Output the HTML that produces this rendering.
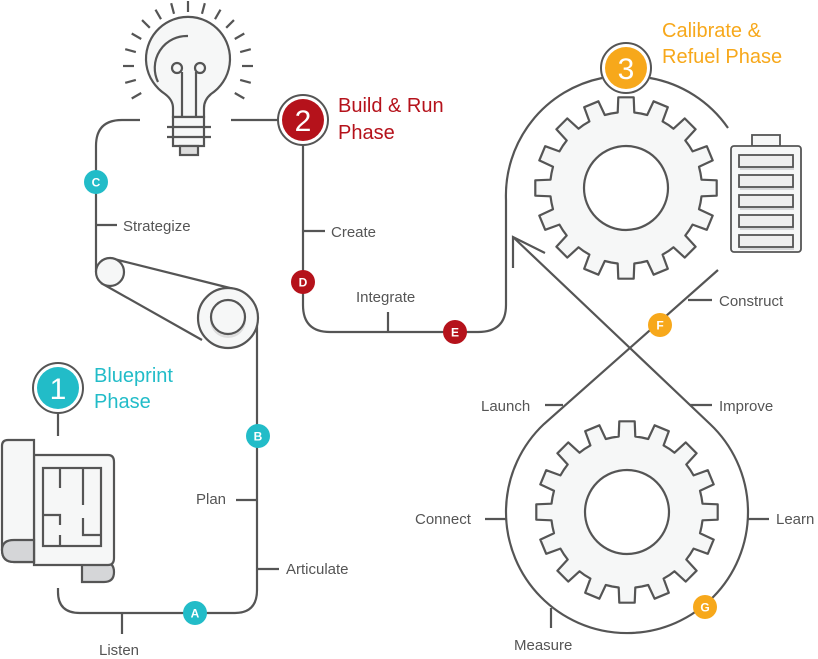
<!DOCTYPE html><html><head><meta charset="utf-8"><style>body{margin:0;background:#fff}svg{display:block}text{font-family:"Liberation Sans",sans-serif}</style></head><body>
<svg id="s" width="818" height="659" viewBox="0 0 818 659" xmlns="http://www.w3.org/2000/svg">
<g fill="none" stroke="#555" stroke-width="2.2">
<path d="M58,588 V592 Q58,613 80,613 H235 Q257,613 257,590 V318"/>
<path d="M140,120 H122 Q96,120 96,146 V272"/>
<path d="M110,258 L234,289 M101,283 L202,340"/>
<path d="M231,120 H282"/>
<path d="M303,144 V305 Q303,332 330,332 H478 Q506,332 506,305 V200 A120,120 0 0 1 602,78 M650,78 A120,120 0 0 1 728,128"/>
<path d="M718,270 L544,424 A121,121 0 1 0 710,424 L513,237"/>
<path d="M513,268 V237 L545,253"/>
<path d="M96,225 H117 M303,231 H325 M388,312 V332 M236,500 H257 M257,569 H279 M122,613 V634 M688,300 H712 M545,405 H563 M690,405 H712 M485,519 H506 M748,519 H769 M551,608 V628 M58,412 V436"/>
</g>
<circle cx="110" cy="272" r="14" fill="#f6f7f7" stroke="#555" stroke-width="2.2"/>
<circle cx="228" cy="318" r="30" fill="#f6f7f7" stroke="#555" stroke-width="2.2"/>
<circle cx="228" cy="320" r="18" fill="#ddd"/>
<circle cx="228" cy="317" r="17" fill="#f6f7f7" stroke="#555" stroke-width="2.2"/>
<g stroke="#555" stroke-width="2.2" fill="#f6f7f7">
<path d="M173,117 V108 Q173,100 165,94 A42,42 0 1 1 211,94 Q204,100 204,108 V117 Z"/>
<rect x="173" y="117" width="31" height="29"/>
<rect x="180" y="146" width="18" height="9" fill="#ddd"/>
<path d="M167,127 H211 M167,137 H211" fill="none"/>
<path d="M182,117 V72 M196,117 V72" fill="none"/>
<circle cx="177" cy="68" r="5" fill="none"/><circle cx="200" cy="68" r="5" fill="none"/>
<path d="M158,82 A32,32 0 0 1 188,36" fill="none"/>
</g>
<g stroke="#555" stroke-width="2.2" id="rays"></g>
<g stroke="#555" stroke-width="2.2" fill="#f6f7f7">
<path d="M82,560 V582 H104 Q114,582 114,572 Q114,562 104,562 Z" fill="#d5d6d8"/>
<path d="M34,455 V565 H108 Q114,565 114,558 V462 Q114,455 108,455 Z"/>
<path d="M34,440 H8 Q2,440 2,446 V550 Q2,562 14,562 H34 V440 Z"/>
<path d="M2,550 Q2,540 14,540 H34 V562 H14 Q2,562 2,550Z" fill="#d5d6d8"/>
<rect x="43" y="468" width="58" height="78" fill="none"/>
<path d="M60,468 V488 M83,468 V505 M43,515 H60 V525 M60,535 V546 M83,518 V535 H101" fill="none"/>
</g>
<g stroke="#555" stroke-width="1.8" fill="#f6f7f7">
<rect x="752" y="135" width="28" height="11"/>
<rect x="731" y="146" width="70" height="106" rx="3"/>
<g id="bars"></g>
</g>
<g id="gears"></g>
<g stroke="#555" stroke-width="2" fill="#fff">
<circle cx="58" cy="388" r="25"/><circle cx="303" cy="120" r="25"/><circle cx="626" cy="68" r="25"/>
</g>
<circle cx="58" cy="388" r="21" fill="#22BCC8"/><circle cx="303" cy="120" r="21" fill="#B5121B"/><circle cx="626" cy="68" r="21" fill="#F7A81B"/>
<g fill="#fff" font-size="30" text-anchor="middle"><text x="58" y="399">1</text><text x="303" y="131">2</text><text x="626" y="79">3</text></g>
<g font-size="20"><text x="94" y="382" fill="#22BCC8">Blueprint</text><text x="94" y="408" fill="#22BCC8">Phase</text>
<text x="338" y="112" fill="#B5121B">Build &amp; Run</text><text x="338" y="139" fill="#B5121B">Phase</text>
<text x="662" y="37" fill="#F7A81B">Calibrate &amp;</text><text x="662" y="63" fill="#F7A81B">Refuel Phase</text></g>
<g id="mk"></g>
<g font-size="15" fill="#555">
<text x="123" y="231">Strategize</text><text x="331" y="237">Create</text><text x="356" y="302">Integrate</text>
<text x="196" y="504">Plan</text><text x="286" y="574">Articulate</text><text x="99" y="655">Listen</text>
<text x="719" y="306">Construct</text><text x="481" y="411">Launch</text><text x="719" y="411">Improve</text>
<text x="415" y="524">Connect</text><text x="776" y="524">Learn</text><text x="514" y="650">Measure</text>
</g>
</svg>
<script>
var NS="http://www.w3.org/2000/svg";
function el(p,t,a){var e=document.createElementNS(NS,t);for(var k in a)e.setAttribute(k,a[k]);p.appendChild(e);return e;}
var r=document.getElementById("rays");
for(var i=0;i<17;i++){var a=(150+i*15)*Math.PI/180;var cx=188,cy=66;
el(r,"line",{x1:cx+54*Math.cos(a),y1:cy+54*Math.sin(a),x2:cx+65*Math.cos(a),y2:cy+65*Math.sin(a)});}
var b=document.getElementById("bars");
for(var i=0;i<5;i++){el(b,"rect",{x:740,y:157+i*20,width:54,height:13,fill:"#d5d6d8",stroke:"none"});el(b,"rect",{x:739,y:155+i*20,width:54,height:12,fill:"#eee"});}
var g=document.getElementById("gears");
function gear(cx,cy){var n=16,ro=91,ri=76,d="";for(var i=0;i<n;i++){var c=i*2*Math.PI/n-Math.PI/2,w=0.085,w2=0.11;
var pts=[[ri,c-Math.PI/n],[ri,c-w2],[ro,c-w],[ro,c+w],[ri,c+w2]];
pts.forEach(function(p,j){d+=(i==0&&j==0?"M":"L")+(cx+p[0]*Math.cos(p[1])).toFixed(1)+","+(cy+p[0]*Math.sin(p[1])).toFixed(1);});}
el(g,"path",{d:d+"Z",fill:"#f6f7f7",stroke:"#555","stroke-width":2.2,"stroke-linejoin":"round"});
el(g,"circle",{cx:cx,cy:cy,r:42,fill:"#fff",stroke:"#555","stroke-width":2.2});}
gear(626,188);gear(627,512);
var m=document.getElementById("mk");
[["A",195,613,"#22BCC8"],["B",258,436,"#22BCC8"],["C",96,182,"#22BCC8"],["D",303,282,"#B5121B"],["E",455,332,"#B5121B"],["F",660,325,"#F7A81B"],["G",705,607,"#F7A81B"]].forEach(function(q){
el(m,"circle",{cx:q[1],cy:q[2],r:12,fill:q[3]});var t=el(m,"text",{x:q[1],y:q[2]+4.5,"text-anchor":"middle","font-size":12,"font-weight":"bold",fill:"#fff"});t.textContent=q[0];});
</script>
</body></html>
